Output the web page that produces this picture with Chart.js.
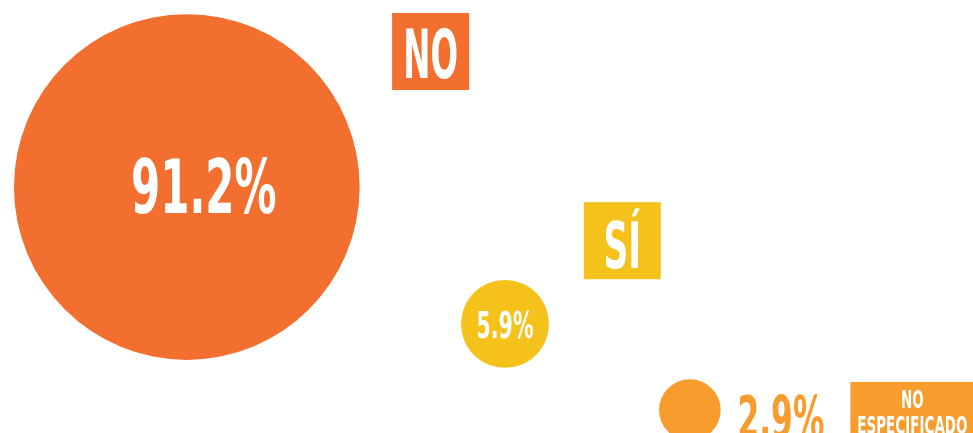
<!DOCTYPE html>
<html>
<head>
<meta charset="utf-8">
<script src="https://cdn.jsdelivr.net/npm/chart.js@4"></script>
<style>
  html, body { margin: 0; padding: 0; background: #ffffff; }
  #wrap { width: 973px; height: 433px; }
</style>
</head>
<body>
<div id="wrap"><canvas id="respuestaChart" width="973" height="433"></canvas></div>
<script>
// categories and values (percentages)
const categories = ['NO', 'SÍ', 'NO ESPECIFICADO'];
const percentages = [91.2, 5.9, 2.9];
// where each bubble sits on the (hidden) 0-10 grid
const posX = [1.92, 5.19, 7.09];
const posY = [5.68, 2.52, 0.53];
const colors = ['#f36f2f', '#f5c21c', '#f79c2d'];

// bubble area proportional to the percentage
const RADIUS_SCALE = 18.1;

const FONT = '"Liberation Sans Narrow", "DejaVu Sans Condensed", "Roboto", sans-serif';

// draw condensed text (squeezed horizontally)
function squeezedText(ctx, text, x, y, size, color, squeeze) {
  ctx.save();
  ctx.font = 'bold ' + size + 'px ' + FONT;
  ctx.fillStyle = color;
  ctx.textAlign = 'center';
  ctx.textBaseline = 'alphabetic';
  ctx.translate(x, y);
  ctx.scale(squeeze, 1);
  ctx.fillText(text, 0, 0);
  ctx.restore();
}

const labelPlugin = {
  id: 'bubbleLabels',
  afterDatasetsDraw(chart, args, opts) {
    const ctx = chart.ctx;
    const meta = chart.getDatasetMeta(0);
    const xs = chart.scales.x, ys = chart.scales.y;

    meta.data.forEach((pt, i) => {
      const v = opts.values[i];
      const t = opts.valueText[i];
      squeezedText(ctx, v.toFixed(1) + '%', pt.x + t.dx, pt.y + t.dy, t.size, t.color, t.squeeze);

      // category tag box
      const b = opts.boxes[i];
      const bx = xs.getPixelForValue(b.x);
      const by = ys.getPixelForValue(b.y);
      ctx.save();
      ctx.fillStyle = colors[i];
      ctx.fillRect(bx, by, b.w, b.h);
      ctx.restore();
      b.lines.forEach((ln, j) => {
        squeezedText(ctx, ln, bx + b.w / 2 + (b.tx || 0), by + b.base[j], b.size, '#ffffff', b.squeeze);
      });
    });
  }
};

new Chart(document.getElementById('respuestaChart'), {
  type: 'bubble',
  data: {
    datasets: [{
      data: categories.map((c, i) => ({
        x: posX[i],
        y: posY[i],
        r: RADIUS_SCALE * Math.sqrt(percentages[i])
      })),
      backgroundColor: colors,
      borderWidth: 0,
      hoverBorderWidth: 0,
      clip: false
    }]
  },
  options: {
    responsive: false,
    animation: false,
    layout: { padding: 0, autoPadding: false },
    scales: {
      x: { display: false, min: 0, max: 10 },
      y: { display: false, min: 0, max: 10 }
    },
    plugins: {
      legend: { display: false },
      tooltip: { enabled: false },
      bubbleLabels: {
        values: percentages,
        valueText: [
          { dx: 17, dy: 26, size: 74, color: '#ffffff', squeeze: 0.63 },
          { dx: 0, dy: 14, size: 38, color: '#ffffff', squeeze: 0.6 },
          { dx: 91, dy: 28, size: 58, color: '#f79c2d', squeeze: 0.6 }
        ],
        boxes: [
          { x: 4.03, y: 9.70, w: 77, h: 77, lines: ['NO'], base: [65], size: 68, squeeze: 0.53 },
          { x: 6.00, y: 5.33, w: 77, h: 77, lines: ['SÍ'], base: [66], size: 64, squeeze: 0.6 },
          { x: 8.74, y: 1.18, w: 130, h: 60, lines: ['NO', 'ESPECIFICADO'], base: [26, 52], size: 25, squeeze: 0.6, tx: -3 }
        ]
      }
    }
  },
  plugins: [labelPlugin]
});
</script>
</body>
</html>
